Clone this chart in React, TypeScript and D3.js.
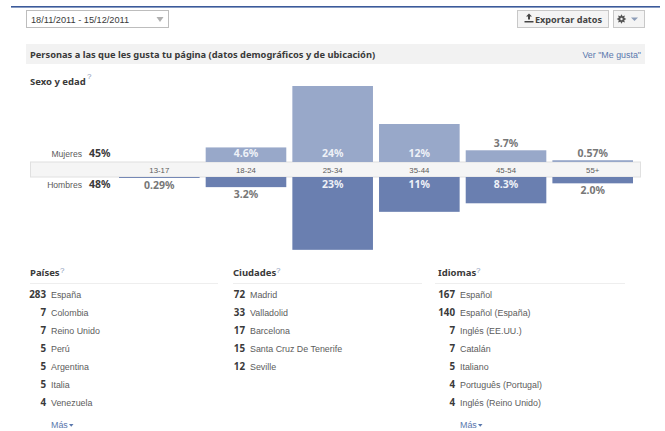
import React from "react";
import * as d3 from "d3";

const ageGroups = ["13-17", "18-24", "25-34", "35-44", "45-54", "55+"];
const womenValues = [0, 4.6, 24, 12, 3.7, 0.57];
const menValues = [0.29, 3.2, 23, 11, 8.3, 2.0];
const womenLabels = ["", "4.6%", "24%", "12%", "3.7%", "0.57%"];
const menLabels = ["0.29%", "3.2%", "23%", "11%", "8.3%", "2.0%"];

const countryNames = ["España", "Colombia", "Reino Unido", "Perú", "Argentina", "Italia", "Venezuela"];
const countryCounts = [283, 7, 7, 5, 5, 5, 4];
const cityNames = ["Madrid", "Valladolid", "Barcelona", "Santa Cruz De Tenerife", "Seville"];
const cityCounts = [72, 33, 17, 15, 12];
const languageNames = ["Español", "Español (España)", "Inglés (EE.UU.)", "Catalán", "Italiano", "Português (Portugal)", "Inglés (Reino Unido)"];
const languageCounts = [167, 140, 7, 7, 5, 4, 4];

const BOLD = "'Noto Sans', sans-serif";
const PLAIN = "'Liberation Sans', sans-serif";
const INK = "#3a3a3a";
const SOFT = "#5c5c5c";
const LINK = "#5a78ad";

const x = d3.scaleBand<string>().domain(ageGroups).range([119, 633]).paddingInner(0.07).paddingOuter(0);
const pxPerPct = d3.scaleLinear().domain([0, 24]).range([0, 76]);
const BAND_TOP = 162;
const BAND_BOTTOM = 177;
const INSIDE_MIN = 4;

const rowY = d3.scaleLinear().domain([0, 6]).range([294, 402]);

function gearPath(r: number, teeth: number) {
  const pts: [number, number][] = [];
  for (let i = 0; i < teeth * 2; i++) {
    pts.push([(i * Math.PI) / teeth, i % 2 ? r * 0.62 : r]);
  }
  return d3.lineRadial().curve(d3.curveLinearClosed)(pts) as string;
}

function ListColumn(props: { title: string; titleX: number; ruleX: [number, number]; numRight: number; names: string[]; counts: number[]; more?: number; qx: number }) {
  const { title, titleX, ruleX, numRight, names, counts, more, qx } = props;
  return (
    <g>
      <text x={titleX} y={276} fontFamily={BOLD} fontSize={9.5} fontWeight={700} fill={INK}>{title}</text>
      <text x={qx} y={273} fontFamily={PLAIN} fontSize={8} fill="#8a9ab8">?</text>
      <line x1={ruleX[0]} x2={ruleX[1]} y1={283.5} y2={283.5} stroke="#eeeeee" />
      {names.map((n, i) => (
        <g key={n}>
          <text x={numRight} y={rowY(i) + 3.5} textAnchor="end" fontFamily={BOLD} fontSize={9.8} fontWeight={700} fill={INK}>{counts[i]}</text>
          <text x={numRight + 5} y={rowY(i) + 3.5} fontFamily={PLAIN} fontSize={8.9} fill={SOFT}>{n}</text>
        </g>
      ))}
      {more !== undefined && (
        <g>
          <text x={more} y={427.5} fontFamily={PLAIN} fontSize={8.9} fill={LINK}>Más</text>
          <path d={`M${more + 18},424h4.5l-2.25,2.8z`} fill={LINK} />
        </g>
      )}
    </g>
  );
}

export default function App() {
  const bw = x.bandwidth();
  return (
    <svg width={665} height={431} style={{ position: "absolute", left: 0, top: 0, background: "#fff" }} fontFamily={PLAIN}>
      <rect x={11} y={6} width={649} height={1.6} fill="#3b5a9a" />

      {/* date range selector */}
      <rect x={26.5} y={10.5} width={142} height={17} fill="#fff" stroke="#bdbdbd" />
      <text x={31} y={22.5} fontSize={9.2} fill={INK}>18/11/2011 - 15/12/2011</text>
      <path d="M156.5,17h7l-3.5,5z" fill="#b0b0b0" />

      {/* export and settings buttons */}
      <rect x={517.5} y={10.5} width={91} height={17} fill="#f4f4f4" stroke="#c8c8c8" />
      <path d="M526,16.5l3-3l3,3h-2v3h-2v-3zM524.5,21h9v1.5h-9z" fill="#444" />
      <text x={535} y={22.5} fontFamily={BOLD} fontSize={9.1} fontWeight={700} fill="#444">Exportar datos</text>
      <rect x={613.5} y={10.5} width={31} height={17} fill="#f4f4f4" stroke="#c8c8c8" />
      <g transform="translate(621.5,19)">
        <path d={gearPath(4.8, 8)} fill="#555" />
        <circle r={1.2} fill="#f4f4f4" />
      </g>
      <path d="M631,17.5h7l-3.5,3.5z" fill="#8d9db8" />

      {/* section header */}
      <rect x={26} y={44} width={619} height={20} fill="#f2f2f2" />
      <text x={30} y={58} fontFamily={BOLD} fontSize={9.3} fontWeight={700} fill={INK}>Personas a las que les gusta tu página (datos demográficos y de ubicación)</text>
      <text x={641} y={57.5} textAnchor="end" fontSize={8.9} fill={LINK}>Ver "Me gusta"</text>

      <text x={30} y={85} fontFamily={BOLD} fontSize={9.5} fontWeight={700} fill={INK}>Sexo y edad</text>
      <text x={87} y={79} fontSize={8} fill="#8a9ab8">?</text>

      <rect x={30.5} y={162} width={610} height={15} fill="#f5f5f5" stroke="#e0e0e0" />

      {/* mirrored age bars, women above and men below the band */}
      {ageGroups.map((g, i) => {
        const hw = pxPerPct(womenValues[i]);
        const hm = pxPerPct(menValues[i]);
        return (
          <g key={g}>
            {hw > 0 && <rect x={x(g)} y={BAND_TOP - hw} width={bw} height={hw} fill="#98a8c9" />}
            <rect x={x(g)} y={BAND_BOTTOM} width={bw} height={hm} fill="#6a7fb0" />
          </g>
        );
      })}

      {ageGroups.map((g) => (
        <text key={g} x={(x(g) as number) + bw / 2} y={172.5} textAnchor="middle" fontSize={7.8} fill={SOFT}>{g}</text>
      ))}

      {ageGroups.map((g, i) => {
        const cx = (x(g) as number) + bw / 2;
        const wIn = womenValues[i] >= INSIDE_MIN;
        const mIn = menValues[i] >= INSIDE_MIN;
        const wY = wIn ? 157 : BAND_TOP - pxPerPct(womenValues[i]) - 3;
        const mY = mIn ? 188 : BAND_BOTTOM + pxPerPct(menValues[i]) + 11;
        return (
          <g key={g} fontFamily={BOLD} fontSize={10.5} fontWeight={700} textAnchor="middle">
            {womenLabels[i] && <text x={cx} y={wY} fill={wIn ? "#eef1f7" : "#777"}>{womenLabels[i]}</text>}
            <text x={cx} y={mY} fill={mIn ? "#eef1f7" : "#777"}>{menLabels[i]}</text>
          </g>
        );
      })}

      <text x={82} y={157} textAnchor="end" fontSize={8.6} fill={SOFT}>Mujeres</text>
      <text x={89} y={157} fontFamily={BOLD} fontSize={10.5} fontWeight={700} fill={INK}>45%</text>
      <text x={82} y={188} textAnchor="end" fontSize={8.6} fill={SOFT}>Hombres</text>
      <text x={89} y={188} fontFamily={BOLD} fontSize={10.5} fontWeight={700} fill={INK}>48%</text>

      <ListColumn title="Países" titleX={30} qx={60} ruleX={[30, 218]} numRight={46} names={countryNames} counts={countryCounts} more={51} />
      <ListColumn title="Ciudades" titleX={233} qx={276} ruleX={[233, 422]} numRight={245} names={cityNames} counts={cityCounts} />
      <ListColumn title="Idiomas" titleX={438} qx={476} ruleX={[435, 625]} numRight={455} names={languageNames} counts={languageCounts} more={460} />
    </svg>
  );
}
